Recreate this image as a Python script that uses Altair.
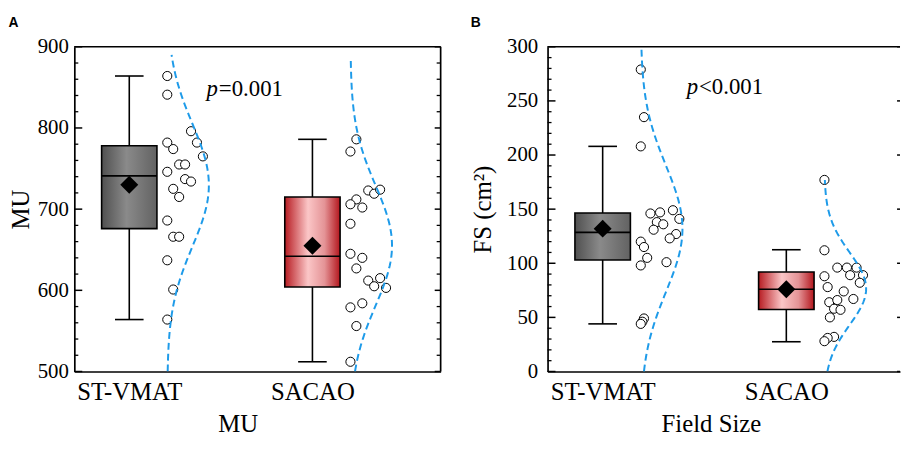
import json
import pandas as pd
import altair as alt

groups = ["ST-VMAT", "SACAO"]

# ---- Panel A: MU ----
mu_st = [864, 841, 796, 782, 782, 774, 765, 755, 755, 746, 737, 734, 725, 715, 686, 666, 666, 637, 601, 564]
mu_st_col = [0, 0, 4, 0, 5, 1, 6, 2, 3, 0, 3, 4, 1, 2, 0, 1, 2, 0, 1, 0]
mu_sa = [786, 771, 723, 719, 724, 712, 706, 702, 682, 645, 640, 627, 612, 615, 605, 603, 579, 584, 556, 512]
mu_sa_col = [1, 0, 3, 4, 5, 1, 0, 2, 0, 0, 2, 1, 3, 5, 4, 6, 0, 2, 1, 0]
mu_low = [564, 512]
mu_q1 = [676, 604]
mu_median = [741, 642]
mu_q3 = [778, 715]
mu_high = [864, 786]
mu_mean = [730, 655]
mu_curve_top = [890, 883]
mu_ticks = [500, 600, 700, 800, 900]
mu_p = "=0.001"

# ---- Panel B: Field size ----
fs_st = [279, 235, 208, 146, 147, 149, 141, 138, 136, 131, 127, 123, 120, 115, 105, 98, 101, 49, 46, 44]
fs_st_col = [0, 1, 0, 3, 6, 10, 12, 5, 7, 4, 11, 9, 0, 1, 2, 0, 8, 1, 0.5, 0]
fs_sa = [177, 112, 96, 96, 96, 89, 89, 82, 88, 78, 74, 67, 64, 66, 58, 57, 50, 32, 31, 28]
fs_sa_col = [0, 0, 4, 7, 10, 8, 12, 11, 0, 1, 6, 9, 1.5, 4, 3, 5, 1.7, 3, 1, 0]
fs_low = [44, 27.5]
fs_q1 = [103, 57.3]
fs_median = [128.5, 76]
fs_q3 = [146.4, 92]
fs_high = [208, 112.5]
fs_mean = [132, 76]
fs_curve_top = [300, 177]
fs_ticks = [0, 50, 100, 150, 200, 250, 300]
fs_p = "<0.001"

# ---- style ----
HEIGHT = 328
BOX_HALF = 0.151
CAP_HALF = 0.078
BASE = 0.2075
AMP = 0.227
SERIF = "Liberation Serif"
LINE_W = 1.6
CURVE_COLOR = "#1e9be9"

gray_grad = alt.LinearGradient(
    gradient="linear", x1=0, x2=1, y1=0, y2=0,
    stops=[alt.GradientStop(offset=0, color="#505050"),
           alt.GradientStop(offset=0.45, color="#8a8a8a"),
           alt.GradientStop(offset=1, color="#626262")])
red_grad = alt.LinearGradient(
    gradient="linear", x1=0, x2=1, y1=0, y2=0,
    stops=[alt.GradientStop(offset=0, color="#b71c22"),
           alt.GradientStop(offset=0.42, color="#fbc6c7"),
           alt.GradientStop(offset=0.72, color="#e49396"),
           alt.GradientStop(offset=1, color="#b3161d")])


def make_points(st, st_col, sa, sa_col):
    return pd.DataFrame({
        "g": [0] * len(st) + [1] * len(sa),
        "v": st + sa,
        "col": st_col + sa_col,
    })


def make_box(low, q1, med, q3, high, mean):
    return pd.DataFrame({"g": [0, 1], "low": low, "q1": q1, "med": med,
                         "q3": q3, "high": high, "mean": mean})


def make_curve(st, sa, lo, top):
    s1, s2 = pd.Series(st), pd.Series(sa)
    return pd.DataFrame({"g": [0, 1], "lo": [lo, lo], "hi": top,
                         "mu": [s1.mean(), s2.mean()], "sd": [s1.std(), s2.std()]})


def panel(points, box, curve, ticks, minor, dom_y, dom_x, width, letter,
          ytitle, xtitle, ptext, pxy, step, label_pad, title_pad, right_border):
    ys = alt.Scale(domain=dom_y, nice=False, zero=False)
    xs = alt.Scale(domain=dom_x, nice=False, zero=False)
    xaxis = alt.Axis(values=[0, 1], labelExpr=json.dumps(groups) + "[datum.value]",
                     title=xtitle, ticks=False, tickSize=0, grid=False,
                     labelFontSize=25, titleFontSize=25, labelPadding=8,
                     titlePadding=8, labelAngle=0, titleX=165, titleAlign="center")
    yaxis = alt.Axis(values=ticks, title=ytitle, ticks=False, tickSize=0, grid=False,
                     labelFontSize=21, titleFontSize=25, labelPadding=label_pad,
                     titlePadding=title_pad)

    def X(f):
        return alt.X(f, scale=xs, axis=xaxis)

    def Y(f):
        return alt.Y(f, scale=ys, axis=yaxis)

    bx = alt.Chart(box).transform_calculate(
        bl=f"datum.g - {BOX_HALF}", br=f"datum.g + {BOX_HALF}",
        cl=f"datum.g - {CAP_HALF}", cr=f"datum.g + {CAP_HALF}")

    wl = bx.mark_rule(color="black", strokeWidth=LINE_W).encode(
        x=X("g:Q"), y=Y("low:Q"), y2="q1:Q")
    wh = bx.mark_rule(color="black", strokeWidth=LINE_W).encode(
        x=X("g:Q"), y=Y("q3:Q"), y2="high:Q")
    cap_lo = bx.mark_rule(color="black", strokeWidth=LINE_W).encode(
        x=X("cl:Q"), x2="cr:Q", y=Y("low:Q"))
    cap_hi = bx.mark_rule(color="black", strokeWidth=LINE_W).encode(
        x=X("cl:Q"), x2="cr:Q", y=Y("high:Q"))
    rect_st = bx.transform_filter("datum.g == 0").mark_rect(
        fill=gray_grad, stroke="black", strokeWidth=LINE_W).encode(
        x=X("bl:Q"), x2="br:Q", y=Y("q1:Q"), y2="q3:Q")
    rect_sa = bx.transform_filter("datum.g == 1").mark_rect(
        fill=red_grad, stroke="black", strokeWidth=LINE_W).encode(
        x=X("bl:Q"), x2="br:Q", y=Y("q1:Q"), y2="q3:Q")
    med = bx.mark_rule(color="black", strokeWidth=LINE_W).encode(
        x=X("bl:Q"), x2="br:Q", y=Y("med:Q"))
    mean = bx.mark_point(shape="diamond", filled=True, color="black", size=330,
                         opacity=1).encode(x=X("g:Q"), y=Y("mean:Q"))

    pts = alt.Chart(points).transform_calculate(
        px=f"datum.g + {BASE} + datum.col * {step}"
    ).mark_point(shape="circle", filled=True, fill="white", stroke="black",
                 strokeWidth=1, size=85, opacity=1).encode(
        x=X("px:Q"), y=Y("v:Q"))

    crv = alt.Chart(curve).transform_calculate(
        t="sequence(0, 121)"
    ).transform_flatten(["t"]).transform_calculate(
        v="datum.lo + (datum.hi - datum.lo) * datum.t / 120"
    ).transform_calculate(
        cx=f"datum.g + {BASE} + {AMP} * exp(-0.5 * pow((datum.v - datum.mu) / datum.sd, 2))"
    ).mark_line(color=CURVE_COLOR, strokeWidth=2, strokeDash=[7, 4], clip=True).encode(
        x=X("cx:Q"), y=Y("v:Q"), detail="g:N", order="t:Q")

    major = pd.DataFrame({"t": ticks})
    minr = pd.DataFrame({"t": minor})
    one = pd.DataFrame({"z": [0]})
    tk_major = alt.Chart(major).mark_rule(color="black", strokeWidth=1.5).encode(
        y=Y("t:Q"), x=alt.value(0), x2=alt.value(8))
    tk_minor = alt.Chart(minr).mark_rule(color="black", strokeWidth=1.3).encode(
        y=Y("t:Q"), x=alt.value(0), x2=alt.value(4))
    top = alt.Chart(one).mark_rule(color="black", strokeWidth=1.7).encode(
        x=alt.value(0), x2=alt.value(width), y=alt.value(0))
    layers = [wl, wh, cap_lo, cap_hi, rect_st, rect_sa, med, mean, pts, crv,
              tk_major, tk_minor, top]
    if right_border:
        layers.append(alt.Chart(one).mark_rule(color="black", strokeWidth=1.7).encode(
            x=alt.value(width), y=alt.value(0), y2=alt.value(HEIGHT)))
        layers.append(alt.Chart(major).mark_rule(color="black", strokeWidth=1.5).encode(
            y=Y("t:Q"), x=alt.value(width - 6), x2=alt.value(width)))
        layers.append(alt.Chart(minr).mark_rule(color="black", strokeWidth=1.3).encode(
            y=Y("t:Q"), x=alt.value(width - 4), x2=alt.value(width)))
    else:
        layers.append(alt.Chart(major).mark_rule(color="black", strokeWidth=1.5).encode(
            y=Y("t:Q"), x=alt.value(width - 3), x2=alt.value(width)))

    ptxt = pd.DataFrame({"s": [ptext]})
    layers.append(alt.Chart(ptxt).mark_text(
        text="p", font=SERIF, fontStyle="italic", fontSize=23, align="right",
        baseline="alphabetic", color="black").encode(
        x=alt.value(pxy[0]), y=alt.value(pxy[1])))
    layers.append(alt.Chart(ptxt).mark_text(
        font=SERIF, fontSize=23, align="left", baseline="alphabetic",
        color="black").encode(
        text="s:N", x=alt.value(pxy[0] + 1), y=alt.value(pxy[1])))

    return alt.layer(*layers).properties(
        width=width, height=HEIGHT,
        title=alt.TitleParams(text=letter, anchor="start", frame="bounds", offset=6,
                              font="Liberation Sans", fontSize=14, fontWeight="bold",
                              color="black"))


mu_minor = [t for t in range(500, 901, 20) if t not in mu_ticks]
fs_minor = [t for t in range(0, 301, 10) if t not in fs_ticks]

chart_a = panel(make_points(mu_st, mu_st_col, mu_sa, mu_sa_col),
                make_box(mu_low, mu_q1, mu_median, mu_q3, mu_high, mu_mean),
                make_curve(mu_st, mu_sa, 500, mu_curve_top),
                mu_ticks, mu_minor, [500, 900], [-0.3, 1.7], 370, "A",
                "MU", "MU", mu_p, (145, 50), 0.0324, 6, 4, True)
chart_b = panel(make_points(fs_st, fs_st_col, fs_sa, fs_sa_col),
                make_box(fs_low, fs_q1, fs_median, fs_q3, fs_high, fs_mean),
                make_curve(fs_st, fs_sa, 0, fs_curve_top),
                fs_ticks, fs_minor, [0, 300], [-0.3, 1.619], 356, "B",
                "FS (cm²)", "Field Size", fs_p, (152, 48), 0.0175, 10, 11, False)

chart = alt.hconcat(chart_a, chart_b, spacing=29).configure_view(
    stroke=None
).configure_axis(
    labelFont=SERIF, titleFont=SERIF, labelColor="black", titleColor="black",
    titleFontWeight="normal", domainColor="black", domainWidth=1.7
).properties(padding={"left": 0, "top": 6, "right": 0, "bottom": 0})

chart.save("out.html", embed_options={"renderer": "svg", "actions": False})
